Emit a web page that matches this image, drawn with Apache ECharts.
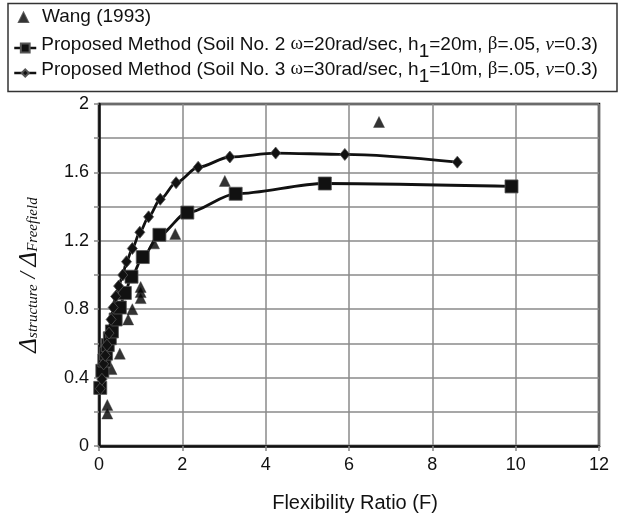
<!DOCTYPE html>
<html><head><meta charset="utf-8">
<script src="https://cdn.jsdelivr.net/npm/echarts@6/dist/echarts.min.js"></script>
<style>html,body{margin:0;padding:0;background:#fff}#c{width:620px;height:518px}</style>
</head><body><div id="c"></div>
<script>
// Data
var wangX = [0.2, 0.2, 0.3, 0.5, 0.7, 0.8, 1.0, 1.0, 1.0, 1.32, 1.83, 3.02, 6.72];
var wangY = [0.24, 0.19, 0.45, 0.54, 0.74, 0.80, 0.93, 0.90, 0.865, 1.185, 1.24, 1.55, 1.895];

var soil2X = [0.03, 0.08, 0.13, 0.17, 0.21, 0.26, 0.31, 0.4, 0.5, 0.62, 0.78, 1.05, 1.45, 2.12, 3.28, 5.42, 9.9];
var soil2Y = [0.34, 0.44, 0.50, 0.54, 0.59, 0.63, 0.67, 0.74, 0.81, 0.895, 0.99, 1.105, 1.235, 1.365, 1.475, 1.535, 1.518];

var soil3X = [0.03, 0.07, 0.11, 0.15, 0.19, 0.24, 0.29, 0.34, 0.4, 0.47, 0.57, 0.66, 0.8, 0.98, 1.19, 1.47, 1.85, 2.38, 3.14, 4.24, 5.9, 8.6];
var soil3Y = [0.335, 0.39, 0.48, 0.53, 0.59, 0.66, 0.74, 0.81, 0.875, 0.935, 1.0, 1.078, 1.155, 1.25, 1.34, 1.443, 1.54, 1.63, 1.69, 1.713, 1.705, 1.66];

var xTicks = [0, 2, 4, 6, 8, 10, 12];
var yTickLabels = [0, 0.4, 0.8, 1.2, 1.6, 2];

function pairs(xs, ys) { return xs.map(function (x, i) { return [x, ys[i]]; }); }

var sans = 'Liberation Sans, Arial, sans-serif';
var serif = 'Liberation Serif, Times New Roman, serif';

var FS = 19;
var legendRich = {
  t: { fontFamily: sans, fontSize: FS, color: '#111', lineHeight: 21, verticalAlign: 'top' },
  g: { fontFamily: serif, fontSize: FS, color: '#111', lineHeight: 21, verticalAlign: 'top' },
  i: { fontFamily: serif, fontStyle: 'italic', fontSize: FS, color: '#111', lineHeight: 21, verticalAlign: 'top' },
  s: { fontFamily: sans, fontSize: FS, color: '#111', lineHeight: 21, verticalAlign: 'bottom' },
  sp: { fontSize: FS, lineHeight: 26, width: 0 }
};
var legendText = {
  'Wang (1993)': '{t|Wang (1993)}',
  'Soil2': '{t|Proposed Method (Soil No. 2 }{g|ω}{t|=20rad/sec, h}{s|1}{t|=20m, }{g|β}{t|=.05, }{i|ν}{t|=0.3)}{sp|}',
  'Soil3': '{t|Proposed Method (Soil No. 3 }{g|ω}{t|=30rad/sec, h}{s|1}{t|=10m, }{g|β}{t|=.05, }{i|ν}{t|=0.3)}{sp|}'
};
function mkLegend(name, top, left, w, h, padLeft) {
  return {
    data: [name], top: top, left: left, itemWidth: w, itemHeight: h, itemGap: 0,
    padding: 0, selectedMode: false,
    formatter: function (n) { return legendText[n]; },
    lineStyle: { width: 2.5, color: '#111' },
    textStyle: { rich: legendRich, padding: [0, 0, 0, padLeft] }
  };
}

var chart = echarts.init(document.getElementById('c'), null, { renderer: 'canvas' });
chart.setOption({
  animation: false,
  backgroundColor: '#fff',
  graphic: [{
    type: 'rect', shape: { x: 8, y: 3.5, width: 609, height: 88 },
    style: { fill: 'none', stroke: '#333', lineWidth: 1.5 }, z: 100
  }],
  legend: [
    mkLegend('Wang (1993)', 7, 18, 9, 9, 9),
    mkLegend('Soil2', 35, 13, 22, 11, 0),
    mkLegend('Soil3', 60, 13, 22, 9, 0)
  ],
  grid: { left: 99, right: 21, top: 104, bottom: 68.5, show: true, borderColor: '#111', borderWidth: 2.5 },
  xAxis: {
    type: 'value', min: 0, max: 12, interval: 2,
    name: 'Flexibility Ratio (F)', nameLocation: 'middle', nameGap: 47,
    nameTextStyle: { fontFamily: sans, fontSize: 20, color: '#111', padding: [0, 0, 0, 12] },
    axisLine: { lineStyle: { color: '#111', width: 2.5 } },
    axisTick: { show: true, length: 5, lineStyle: { color: '#888', width: 1.5 } },
    axisLabel: { fontFamily: sans, fontSize: 18, color: '#111', margin: 10,
      formatter: function (v) { return xTicks.indexOf(v) >= 0 ? String(v) : ''; } },
    splitLine: { show: true, lineStyle: { color: '#8a8a8a', width: 1.5 } }
  },
  yAxis: {
    type: 'value', min: 0, max: 2, interval: 0.2,
    name: '{d|Δ}{s|structure}{m| / }{d|Δ}{s|Freefield}',
    nameLocation: 'middle', nameGap: 58, nameRotate: 90,
    nameTextStyle: {
      rich: {
        d: { fontFamily: serif, fontStyle: 'italic', fontSize: 25, color: '#111', lineHeight: 24, verticalAlign: 'top' },
        m: { fontFamily: serif, fontStyle: 'italic', fontSize: 23, color: '#111', lineHeight: 24, verticalAlign: 'top' },
        s: { fontFamily: serif, fontStyle: 'italic', fontSize: 15, color: '#111', lineHeight: 15, verticalAlign: 'bottom', padding: [12, 0, 0, 0] }
      }
    },
    axisLine: { show: true, lineStyle: { color: '#111', width: 2.5 } },
    axisTick: { show: true, length: 5, lineStyle: { color: '#888', width: 1.5 } },
    axisLabel: { fontFamily: sans, fontSize: 18, color: '#111', margin: 10,
      formatter: function (v) {
        var r = Math.round(v * 10) / 10;
        return yTickLabels.indexOf(r) >= 0 ? String(r) : '';
      } },
    splitLine: { show: true, lineStyle: { color: '#8a8a8a', width: 1.5 } }
  },
  series: [
    {
      name: 'Wang (1993)', type: 'scatter', symbol: 'triangle', symbolSize: 11,
      itemStyle: { color: '#000', borderColor: '#333', borderWidth: 0.5 },
      data: pairs(wangX, wangY), z: 3
    },
    {
      name: 'Soil2', type: 'line', symbol: 'rect', symbolSize: 13, smooth: 0.3, smoothMonotone: 'x',
      lineStyle: { color: '#111', width: 2.8 },
      itemStyle: { color: '#111', borderColor: '#555', borderWidth: 0.8 },
      data: pairs(soil2X, soil2Y), z: 4
    },
    {
      name: 'Soil3', type: 'line', symbol: 'diamond', symbolSize: [10, 12], smooth: 0.3, smoothMonotone: 'x',
      lineStyle: { color: '#111', width: 2.8 },
      itemStyle: { color: '#111', borderColor: '#555', borderWidth: 0.8 },
      data: pairs(soil3X, soil3Y), z: 5
    }
  ]
});
</script></body></html>
